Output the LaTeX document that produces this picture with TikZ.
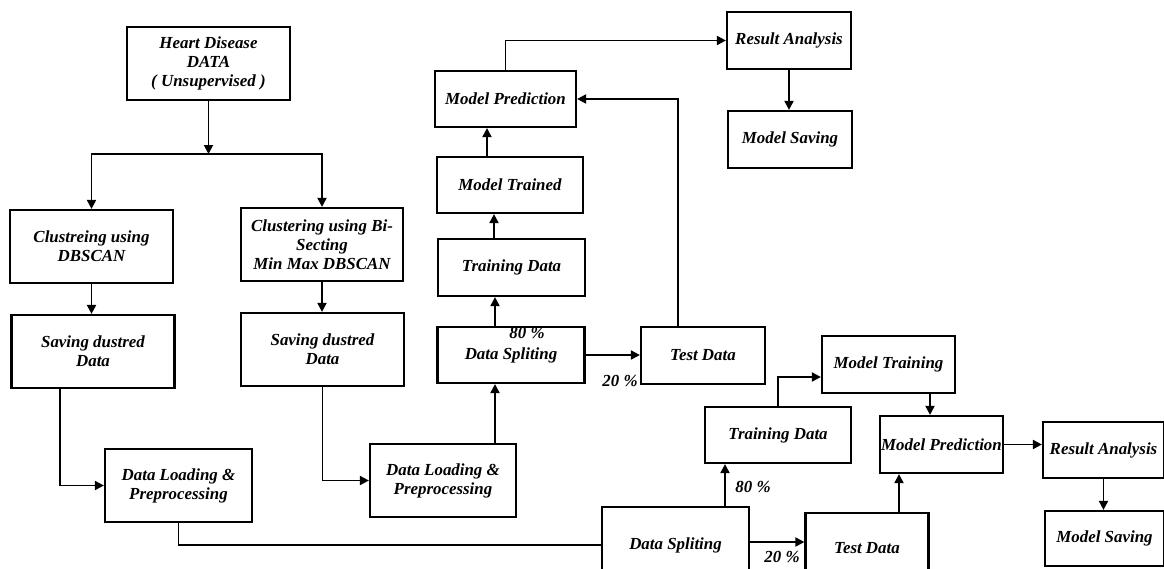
\documentclass[tikz,border=0pt]{standalone}
\usepackage{fontspec}
\setmainfont{Liberation Serif}
\usetikzlibrary{arrows.meta}

\begin{document}
\begin{tikzpicture}[x=1pt, y=-1pt,
  box/.style 2 args={draw, line width=2.2pt, align=center, inner sep=1pt, minimum width=#1pt, minimum height=#2pt, font=\fontsize{16.9}{19}\selectfont\bfseries\itshape},
  link/.style={line width=1.9pt},
  arrow/.style={line width=1.9pt, -{Triangle[length=9pt, width=9pt]}},
  pct/.style={font=\fontsize{16.9}{19}\selectfont\bfseries\itshape, inner sep=0pt}]
  \clip (0,0) rectangle (1164,568);
  \node[box={163}{73}] (heart) at (208.5,63.5) {Heart Disease\\DATA\\( Unsupervised )};
  \node[box={163}{73}] (clA) at (91.5,246.5) {Clustreing using\\DBSCAN};
  \node[box={162}{73}] (clB) at (322,244.5) {Clustering using Bi-\\Secting\\Min Max DBSCAN};
  \node[box={163}{73}] (svA) at (93,351.5) {Saving dustred\\Data};
  \node[box={163}{73}] (svB) at (322.5,349.5) {Saving dustred\\Data};
  \node[box={147}{73}] (dlA) at (178.5,485.5) {Data Loading \&\\Preprocessing};
  \node[box={146}{73}] (dlB) at (443,480.5) {Data Loading \&\\Preprocessing};
  \node[box={147}{56}] (dsA) at (511,355) {Data Spliting};
  \node[box={147}{57}] (tdA) at (511.5,267.5) {Training Data};
  \node[box={146}{56}] (mtA) at (510,185) {Model Trained};
  \node[box={141}{56}] (mpA) at (505.5,99) {Model Prediction};
  \node[box={124}{57}] (raA) at (789,40.5) {Result Analysis};
  \node[box={124}{57}] (msA) at (790,139.5) {Model Saving};
  \node[box={124}{57}] (teA) at (703,355.5) {Test Data};
  \node[box={146}{56}] (tdB) at (778,435) {Training Data};
  \node[box={133}{57}] (mtB) at (888.5,364.5) {Model Training};
  \node[box={123}{57}] (mpB) at (941.5,444.5) {Model Prediction};
  \node[box={121}{56}] (raB) at (1103.5,450) {Result Analysis};
  \node[box={119}{55}] (msB) at (1104.5,538.5) {Model Saving};
  \node[box={147}{76}] (dsB) at (675.5,545) {Data Spliting};
  \node[box={123}{70}] (teB) at (867,548) {Test Data};
  \node[pct] (pA80) at (527,333) {80 \%};
  \node[pct] (pA20) at (620,381) {20 \%};
  \node[pct] (pB80) at (753,487) {80 \%};
  \node[pct] (pB20) at (782,557) {20 \%};
  \coordinate (split) at (208.5,154);
  \coordinate (dlBtop) at ([xshift=52pt]dlB.north);
  \coordinate (dsAtop) at ([xshift=-16pt]dsA.north);
  \coordinate (tdAtop) at ([xshift=-17.5pt]tdA.north);
  \coordinate (mtAtop) at ([xshift=-23pt]mtA.north);
  \coordinate (teAtop) at ([xshift=-25pt]teA.north);
  \coordinate (dsBtop) at ([xshift=49.5pt]dsB.north);
  \coordinate (mtBbot) at ([xshift=41.5pt]mtB.south);
  \coordinate (teBtop) at ([xshift=32pt]teB.north);
  \draw[arrow] (heart) -- (split);
  \draw[arrow] (split) -| (clA);
  \draw[arrow] (split) -| (clB);
  \draw[arrow] (clA) -- (clA |- svA.north);
  \draw[arrow] (clB) -- (clB |- svB.north);
  \draw[arrow] ([xshift=-33pt]svA.south) |- (dlA.west);
  \draw[arrow] (svB.south) |- (dlB.west);
  \draw[link] (dlA.south) |- (dsB.west);
  \draw[arrow] (dlBtop) -- (dlBtop |- dsA.south);
  \draw[arrow] (dsAtop) -- (dsAtop |- tdA.south);
  \draw[arrow] (tdAtop) -- (tdAtop |- mtA.south);
  \draw[arrow] (mtAtop) -- (mtAtop |- mpA.south);
  \draw[arrow] (mpA.north) |- (raA.west);
  \draw[arrow] (raA) -- (raA |- msA.north);
  \draw[arrow] (dsA.east) -- (dsA.east -| teA.west);
  \draw[arrow] (teAtop) |- (mpA.east);
  \draw[arrow] (dsBtop) -- (dsBtop |- tdB.south);
  \draw[arrow] (tdB.north) |- ([yshift=-12.5pt]mtB.west);
  \draw[arrow] (mtBbot) -- (mtBbot |- mpB.north);
  \draw[arrow] (mpB.east) -- (mpB.east -| raB.west);
  \draw[arrow] (raB) -- (raB |- msB.north);
  \draw[arrow] ([yshift=3pt]dsB.east) -- ([yshift=3pt]dsB.east -| teB.west);
  \draw[arrow] (teBtop) -- (teBtop |- mpB.south);
\end{tikzpicture}
\end{document}
